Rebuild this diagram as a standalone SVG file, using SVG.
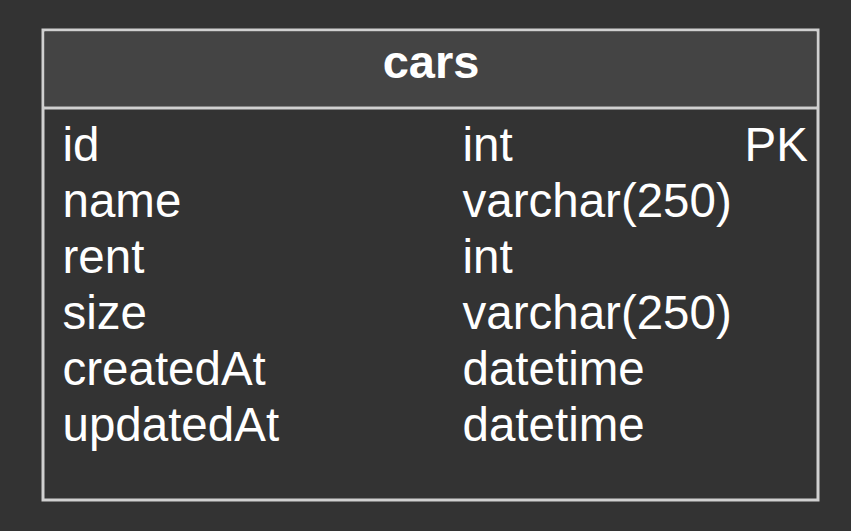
<svg xmlns="http://www.w3.org/2000/svg" width="851" height="531" viewBox="0 0 851 531">
  <style>
    .frame { fill: #333333; stroke: #d0d0d0; stroke-width: 3; }
    .head { fill: #444444; }
    .rule { stroke: #d0d0d0; stroke-width: 3; }
    .title { font-family: "Liberation Sans", Arial, sans-serif; font-size: 47px; font-weight: bold; fill: #ffffff; text-anchor: middle; }
    .cell { font-family: "Liberation Sans", Arial, sans-serif; font-size: 47.5px; fill: #ffffff; }
  </style>
  <rect width="851" height="531" fill="#333333"/>
  <g id="cars">
    <rect class="frame" x="43" y="30" width="775" height="470"/>
    <rect class="head" x="44.5" y="31.5" width="772" height="75"/>
    <line class="rule" x1="43" y1="108" x2="818" y2="108"/>
    <text class="title" x="431" y="78">cars</text>
    <g class="cell">
      <text x="62.5" y="161">id</text>
      <text x="462.5" y="161">int</text>
      <text x="744.5" y="161">PK</text>
      <text x="62.5" y="217">name</text>
      <text x="462.5" y="217">varchar(250)</text>
      <text x="62.5" y="273">rent</text>
      <text x="462.5" y="273">int</text>
      <text x="62.5" y="329">size</text>
      <text x="462.5" y="329">varchar(250)</text>
      <text x="62.5" y="385">createdAt</text>
      <text x="462.5" y="385">datetime</text>
      <text x="62.5" y="441">updatedAt</text>
      <text x="462.5" y="441">datetime</text>
    </g>
  </g>
  <g id="connectors"/>
</svg>
